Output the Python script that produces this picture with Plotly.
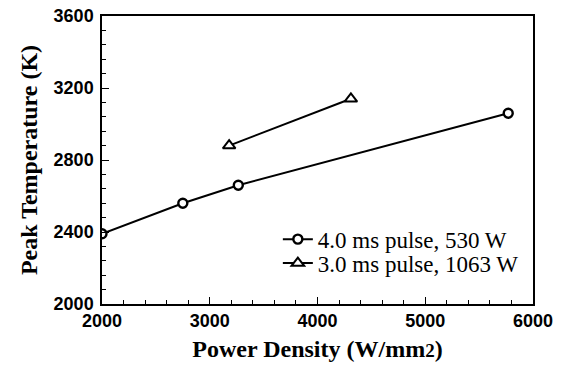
import plotly.graph_objects as go

# Peak temperature vs. power density for two pulse settings
pd_4ms = [2000, 2750, 3265, 5770]
temp_4ms = [2390, 2560, 2660, 3060]
pd_3ms = [3180, 4310]
temp_3ms = [2880, 3140]
names = ["4.0 ms pulse, 530 W", "3.0 ms pulse, 1063 W"]

x_ticks = [2000, 3000, 4000, 5000, 6000]
y_ticks = [2000, 2400, 2800, 3200, 3600]

serif = "Liberation Serif, Times New Roman, serif"
sans = "Liberation Sans, Arial, sans-serif"

fig = go.Figure()
fig.add_trace(go.Scatter(
    x=pd_4ms, y=temp_4ms, mode="lines+markers", name=names[0],
    line=dict(color="black", width=2),
    marker=dict(symbol="circle", size=9, color="white",
                line=dict(color="black", width=2.4)),
    legend="legend",
))
fig.add_trace(go.Scatter(
    x=pd_3ms, y=temp_3ms, mode="lines+markers", name=names[1],
    line=dict(color="black", width=2),
    marker=dict(symbol="triangle-up", size=11, color="white",
                line=dict(color="black", width=2)),
    legend="legend2",
))

axis_common = dict(
    showline=True, linecolor="black", linewidth=1.5, mirror=True,
    ticks="inside", ticklen=7, tickwidth=1.2, tickcolor="black",
    showgrid=False, zeroline=False, automargin=False,
    tickfont=dict(family=sans, size=18, color="black", weight="bold"),
)

fig.update_xaxes(
    range=[2000, 6000], tickvals=x_ticks, ticktext=[str(v) for v in x_ticks],
    minor=dict(ticks="inside", ticklen=4, dtick=200, tickwidth=1, tickcolor="black"),
    title=dict(text="Power Density (W/mm<span style='font-size:19px'>2</span>)",
               font=dict(family=serif, size=24, color="black", weight="bold"),
               standoff=10),
    **axis_common,
)
fig.update_yaxes(
    range=[2000, 3600], tickvals=y_ticks, ticktext=[str(v) for v in y_ticks],
    minor=dict(ticks="inside", ticklen=4, dtick=80, tickwidth=1, tickcolor="black"),
    ticklabelstandoff=3,
    title=dict(text="Peak Temperature (K)",
               font=dict(family=serif, size=24, color="black", weight="bold"),
               standoff=9),
    **axis_common,
)

legend_style = dict(
    xanchor="left", yanchor="middle",
    bgcolor="rgba(0,0,0,0)", borderwidth=0,
    font=dict(family=serif, size=23, color="black"),
    itemwidth=30,
)

fig.update_layout(
    width=561, height=366,
    margin=dict(l=102, r=28, t=16, b=62),
    paper_bgcolor="white", plot_bgcolor="white",
    showlegend=True,
    legend=dict(x=0.408, y=0.225, **legend_style),
    legend2=dict(x=0.408, y=0.142, **legend_style),
)

fig.write_html("out.html")
